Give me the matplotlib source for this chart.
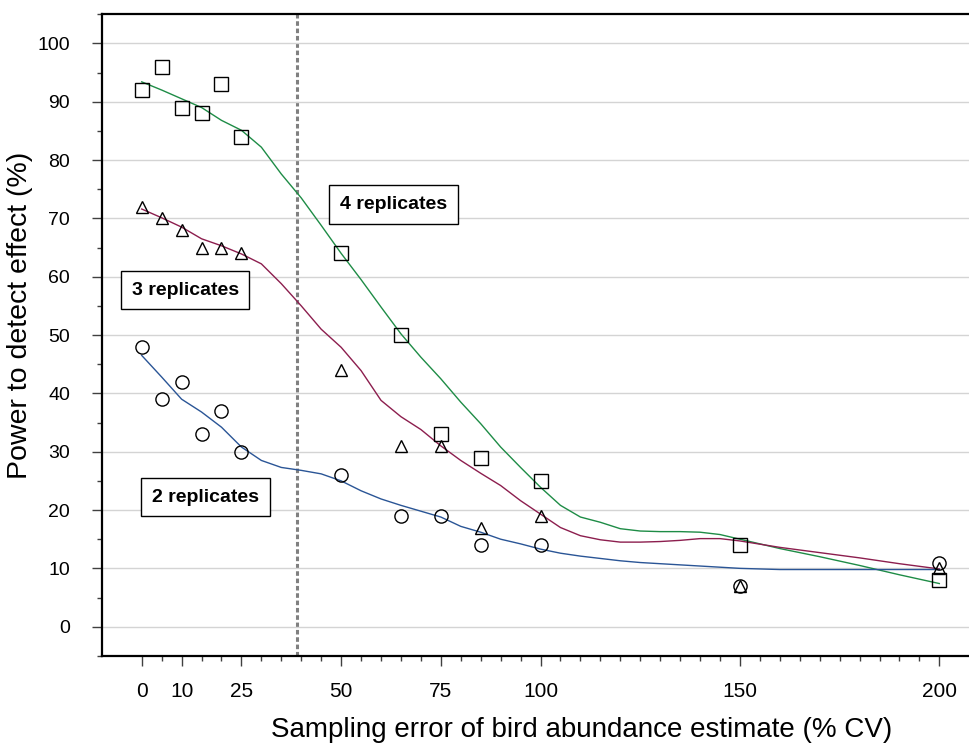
import matplotlib
matplotlib.use("Agg")
import matplotlib.pyplot as plt
from matplotlib.ticker import MultipleLocator, FixedLocator

plt.rcParams['font.family'] = ['Liberation Sans', 'DejaVu Sans']

# sampling error (% CV) for the observed points
cv = [0, 5, 10, 15, 20, 25, 50, 65, 75, 85, 100, 150, 200]
rep4 = [92, 96, 89, 88, 93, 84, 64, 50, 33, 29, 25, 14, 8]
rep3 = [72, 70, 68, 65, 65, 64, 44, 31, 31, 17, 19, 7, 10]
rep2 = [48, 39, 42, 33, 37, 30, 26, 19, 19, 14, 14, 7, 11]

# smoothed curves
cv_fit = [0, 5, 10, 15, 20, 25, 30, 35, 40, 45, 50, 55, 60, 65, 70, 75, 80, 85,
          90, 95, 100, 105, 110, 115, 120, 125, 130, 135, 140, 145, 150, 160,
          170, 180, 190, 200]
fit4 = [93.4, 92.0, 90.5, 89.0, 86.8, 85.1, 82.2, 77.6, 73.5, 68.8, 64.0, 59.5,
        54.8, 50.2, 46.2, 42.5, 38.5, 34.8, 30.8, 27.3, 23.9, 20.8, 18.8, 17.9,
        16.8, 16.4, 16.3, 16.3, 16.2, 15.8, 15.0, 13.4, 12.0, 10.5, 8.9, 7.4]
fit3 = [71.6, 70.1, 68.5, 66.5, 65.3, 63.9, 62.2, 58.8, 55.0, 51.0, 47.9, 43.9,
        38.8, 36.0, 33.8, 31.0, 28.5, 26.3, 24.2, 21.6, 19.3, 17.0, 15.6, 14.9,
        14.5, 14.5, 14.6, 14.8, 15.1, 15.1, 14.7, 13.6, 12.7, 11.8, 10.8, 9.9]
fit2 = [46.5, 42.8, 39.0, 36.8, 34.2, 30.8, 28.5, 27.3, 26.8, 26.2, 25.0, 23.3,
        21.9, 20.8, 19.8, 18.8, 17.2, 16.2, 15.0, 14.2, 13.3, 12.6, 12.1, 11.7,
        11.3, 11.0, 10.8, 10.6, 10.4, 10.2, 10.0, 9.8, 9.8, 9.8, 9.8, 9.8]

xticks = [0, 10, 25, 50, 75, 100, 150, 200]
xminor = [v for v in range(5, 200, 5) if v not in xticks]
threshold = 39

fig = plt.figure(figsize=(9.7, 7.47), dpi=100)
# the plot area runs past the right edge of the picture
ax = fig.add_axes([0.105, 0.122, 0.99, 0.859])

ax.set_xlim(-10, 230.8)
ax.set_ylim(-5, 105)

ax.yaxis.set_major_locator(MultipleLocator(10))
ax.yaxis.set_minor_locator(MultipleLocator(5))
ax.xaxis.set_major_locator(FixedLocator(xticks))
ax.xaxis.set_minor_locator(FixedLocator(xminor))
ax.set_ylim(-5, 105)
ax.grid(axis='y', which='major', color='#d4d4d4', lw=1.0, zorder=0)

ax.plot(cv_fit, fit4, color='#1e8c46', lw=1.0, zorder=2)
ax.plot(cv_fit, fit3, color='#8c1e4e', lw=1.0, zorder=2)
ax.plot(cv_fit, fit2, color='#2a5596', lw=1.0, zorder=2)

ax.plot(cv, rep4, ls='none', marker='s', ms=9.5, mfc='none', mec='black', mew=1.0, zorder=3)
ax.plot(cv, rep3, ls='none', marker='^', ms=9, mfc='none', mec='black', mew=1.0, zorder=3)
ax.plot(cv, rep2, ls='none', marker='o', ms=9.5, mfc='none', mec='black', mew=1.0, zorder=3)

ax.axvline(threshold, color='#808080', lw=2.2, dashes=(1.5, 0.9), zorder=1)

box = dict(boxstyle='square,pad=0.55', fc='white', ec='black', lw=1.0)
ax.text(63.1, 72.4, '4 replicates', fontsize=14, fontweight='bold', ha='center', va='center', bbox=box, zorder=4)
ax.text(10.9, 57.7, '3 replicates', fontsize=14, fontweight='bold', ha='center', va='center', bbox=box, zorder=4)
ax.text(16.0, 22.2, '2 replicates', fontsize=14, fontweight='bold', ha='center', va='center', bbox=box, zorder=4)

for side in ['left', 'bottom', 'top']:
    ax.spines[side].set_linewidth(1.6)
    ax.spines[side].set_color('black')
ax.spines['right'].set_visible(False)

ax.tick_params(axis='both', which='major', length=7, width=1.0, color='#404040', direction='out')
ax.tick_params(axis='both', which='minor', length=3.5, width=1.0, color='#404040', direction='out')
ax.tick_params(axis='y', which='major', pad=16, labelsize=14)
ax.tick_params(axis='x', which='major', pad=12, labelsize=15)

ax.set_xlabel('Sampling error of bird abundance estimate (% CV)', fontsize=20, labelpad=11)
ax.set_ylabel('Power to detect effect (%)', fontsize=20.5)
ax.yaxis.set_label_coords(-0.072, 0.531)

fig.savefig('out.png', dpi=100)
